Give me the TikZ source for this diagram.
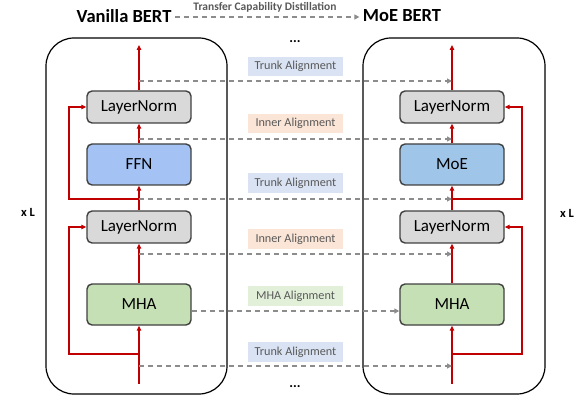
\documentclass[tikz,border=0pt]{standalone}
\usepackage{fontspec}
\setmainfont{Carlito}
\usetikzlibrary{arrows.meta}
\definecolor{redl}{HTML}{C00000}
\definecolor{lngray}{HTML}{D9D9D9}
\definecolor{ffnblue}{HTML}{A4C2F4}
\definecolor{moeblue}{HTML}{9FC5E8}
\definecolor{mhagreen}{HTML}{C5E0B4}
\definecolor{bordgray}{HTML}{404040}
\definecolor{dashgray}{HTML}{8C8C8C}
\definecolor{trunkbg}{HTML}{DAE3F3}
\definecolor{innerbg}{HTML}{FBE5D6}
\definecolor{mhabg}{HTML}{E2F0D9}
\definecolor{labtext}{HTML}{595959}
\begin{document}
\begin{tikzpicture}[x=1pt,y=-1pt,
  blk/.style={draw=bordgray, line width=1.4pt, rounded corners=5pt, minimum width=104pt, inner sep=0pt, font=\fontsize{17}{19}\selectfont},
  thin blk/.style={blk, minimum height=32pt},
  tall blk/.style={blk, minimum height=41pt},
  outer/.style={draw=black, line width=1.2pt, rounded corners=28pt, minimum height=356pt, inner sep=0pt},
  redarr/.style={draw=redl, line width=1.2pt, -{Triangle[length=5pt,width=4.5pt]}},
  dasharr/.style={draw=dashgray, line width=1.3pt, dash pattern=on 5pt off 4pt, -{Triangle[length=5pt,width=5pt]}},
  lab/.style={minimum width=95pt, minimum height=19.5pt, inner sep=0pt, text=labtext, font=\fontsize{12.2}{14}\selectfont},
  title/.style={font=\bfseries\fontsize{18.5}{21}\selectfont},
  dots/.style={font=\bfseries\fontsize{14}{16}\selectfont},
  xl/.style={font=\bfseries\fontsize{12.5}{15}\selectfont}
]
\useasboundingbox (0,0) rectangle (587,401);

% outer boxes
\node[outer, minimum width=181pt] (L) at (136.5,216) {};
\node[outer, minimum width=182pt] (R) at (454,216) {};

% left stack
\node[thin blk, fill=lngray] (lnA) at (139,107) {LayerNorm};
\node[tall blk, fill=ffnblue] (ffn) at (139,164.5) {FFN};
\node[thin blk, fill=lngray] (lnB) at (139,227) {LayerNorm};
\node[tall blk, fill=mhagreen] (mhaL) at (139,304.5) {MHA};

% right stack
\node[thin blk, fill=lngray] (lnC) at (452,107) {LayerNorm};
\node[tall blk, fill=moeblue] (moe) at (452,164.5) {MoE};
\node[thin blk, fill=lngray] (lnD) at (452,227) {LayerNorm};
\node[tall blk, fill=mhagreen] (mhaR) at (452,304.5) {MHA};

% coordinates left
\coordinate (Lbot) at (139,384);
\coordinate (Ltop) at (139,45);
\coordinate (Ls1) at (139,354);
\coordinate (Ls2) at (139,199);
\coordinate (Lk1) at (69,354);
\coordinate (Lk2) at (69,199);
% coordinates right
\coordinate (Rbot) at (452,384);
\coordinate (Rtop) at (452,45);
\coordinate (Rs1) at (452,354);
\coordinate (Rs2) at (452,199);
\coordinate (Rk1) at (522,354);
\coordinate (Rk2) at (522,199);

% red main flow left
\draw[redarr] (Lbot) -- (mhaL.south);
\draw[redarr] (mhaL.north) -- (lnB.south);
\draw[redarr] (lnB.north) -- (ffn.south);
\draw[redarr] (ffn.north) -- (lnA.south);
\draw[redarr] (lnA.north) -- (Ltop);
\draw[redarr] (Ls1) -- (Lk1) |- (lnB.west);
\draw[redarr] (Ls2) -- (Lk2) |- (lnA.west);

% red main flow right
\draw[redarr] (Rbot) -- (mhaR.south);
\draw[redarr] (mhaR.north) -- (lnD.south);
\draw[redarr] (lnD.north) -- (moe.south);
\draw[redarr] (moe.north) -- (lnC.south);
\draw[redarr] (lnC.north) -- (Rtop);
\draw[redarr] (Rs1) -- (Rk1) |- (lnD.east);
\draw[redarr] (Rs2) -- (Rk2) |- (lnC.east);

% alignment dashed arrows
\coordinate (a1L) at (139,81);   \coordinate (a1R) at (452,81);
\coordinate (a2L) at (139,139);  \coordinate (a2R) at (452,139);
\coordinate (a3L) at (139,199);  \coordinate (a3R) at (452,199);
\coordinate (a4L) at (139,254);  \coordinate (a4R) at (452,254);
\coordinate (a6L) at (139,366);  \coordinate (a6R) at (452,366);
\draw[dasharr] (a1L) -- (a1R);
\draw[dasharr] (a2L) -- (a2R);
\draw[dasharr] (a3L) -- (a3R);
\draw[dasharr] (a4L) -- (a4R);
\draw[dasharr] (mhaL.east |- 0,311) -- (mhaR.west |- 0,311);
\draw[dasharr] (a6L) -- (a6R);

% labels
\node[lab, fill=trunkbg] (t1) at (295.5,66.5) {Trunk Alignment};
\node[lab, fill=innerbg] (i1) at (295.5,123.5) {Inner Alignment};
\node[lab, fill=trunkbg] (t2) at (295.5,183) {Trunk Alignment};
\node[lab, fill=innerbg] (i2) at (295.5,239) {Inner Alignment};
\node[lab, fill=mhabg] (m1) at (295.5,296) {MHA Alignment};
\node[lab, fill=trunkbg] (t3) at (295.5,352) {Trunk Alignment};

% dots
\node[dots] (d1) at (295,42) {...};
\node[dots] (d2) at (295,387) {...};

% x L
\node[xl] (xl1) at (28,212) {x L};
\node[xl] (xl2) at (567,213) {x L};

% title
\node[title] (vb) at (124,16) {Vanilla BERT};
\node[title] (mb) at (402,16) {MoE BERT};
\draw[dasharr, line width=1.1pt] (vb.east |- 0,17) -- (mb.west |- 0,17);
\node[font=\bfseries\fontsize{11.5}{13}\selectfont, text=labtext] (tcd) at (265,7) {Transfer Capability Distillation};
\end{tikzpicture}
\end{document}
